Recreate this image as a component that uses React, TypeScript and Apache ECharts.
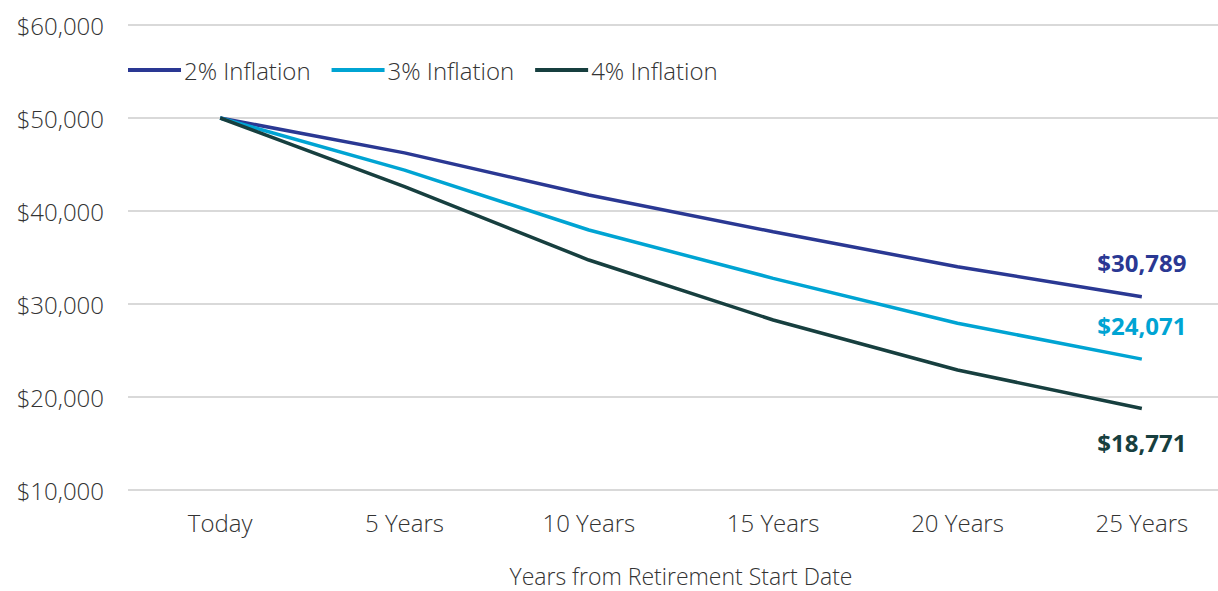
import React, { useEffect, useRef } from "react";
import * as echarts from "echarts";

const categories = ["Today", "5 Years", "10 Years", "15 Years", "20 Years", "25 Years"];
const inflation2 = [50000, 46250, 41720, 37770, 34000, 30789];
const inflation3 = [50000, 44400, 37960, 32760, 27930, 24071];
const inflation4 = [50000, 42610, 34730, 28280, 22900, 18771];
const seriesNames = ["2% Inflation", "3% Inflation", "4% Inflation"];
const colors = ["#2a3893", "#00a4d3", "#173f3f"];

const FONT = "Open Sans";
const TEXT = "#333333";

export default function App() {
  const ref = useRef<HTMLDivElement>(null);
  useEffect(() => {
    document.body.style.margin = "0";
    const chart = echarts.init(ref.current!, null, { renderer: "svg" });
    const datasets = [inflation2, inflation3, inflation4];
    const fmt = (v: number) => "$" + v.toLocaleString("en-US");
    const txt = { fontSize: 24, color: TEXT, fontFamily: FONT, fontWeight: 300 };
    chart.setOption({
      animation: false,
      textStyle: { fontFamily: FONT },
      legend: {
        top: 53,
        left: 123,
        itemWidth: 53,
        itemHeight: 4,
        itemGap: 21,
        icon: "rect",
        textStyle: { ...txt, padding: [0, 0, 0, -2] },
        data: seriesNames,
      },
      grid: { left: 128, right: 0, top: 25, bottom: 101, outerBoundsMode: "none", containLabel: false },
      xAxis: {
        type: "category",
        data: categories,
        boundaryGap: true,
        axisLine: { show: false },
        axisTick: { show: false },
        axisLabel: { ...txt, margin: 20 },
        name: "Years from Retirement Start Date",
        nameLocation: "middle",
        nameGap: 75,
        nameTextStyle: { ...txt, fontSize: 23, lineHeight: 22 },
      },
      yAxis: {
        type: "value",
        min: 10000,
        max: 60000,
        interval: 10000,
        axisLine: { show: false },
        axisTick: { show: false },
        axisLabel: { ...txt, margin: 24, formatter: (v: number) => fmt(v) },
        splitLine: { lineStyle: { color: "#cccccc", width: 1.5 } },
      },
      series: datasets.map((d, i) => ({
        name: seriesNames[i],
        type: "line",
        data: d.map((v, j) =>
          j === d.length - 1
            ? {
                value: v,
                label: {
                  show: true,
                  position: i === 2 ? "bottom" : "top",
                  distance: 22,
                  formatter: () => fmt(v),
                  fontSize: 24,
                  fontWeight: "bold",
                  color: colors[i],
                  fontFamily: FONT,
                },
              }
            : v
        ),
        color: colors[i],
        lineStyle: { width: 3.5, color: colors[i] },
        symbol: "circle",
        symbolSize: 0,
        showSymbol: true,
      })),
    });
    return () => chart.dispose();
  }, []);
  return (
    <div style={{ width: 1218, height: 591, overflow: "hidden" }}>
      <div ref={ref} style={{ width: 1234, height: 591 }} />
    </div>
  );
}
